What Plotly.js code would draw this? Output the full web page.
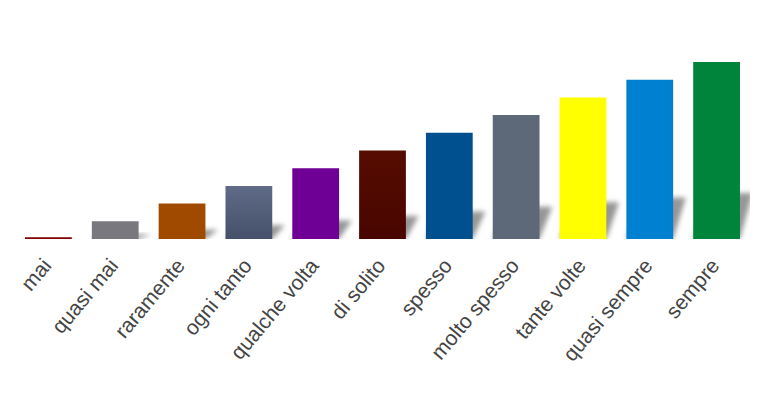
<!DOCTYPE html>
<html>
<head>
<meta charset="utf-8">
<script src="https://cdn.plot.ly/plotly-3.0.1.min.js"></script>
<style>
  html, body { margin: 0; padding: 0; background: #ffffff; }
  #chart { width: 763px; height: 393px; }
</style>
</head>
<body>
<div id="chart"></div>
<script>
// Data
const categories = ["mai", "quasi mai", "raramente", "ogni tanto", "qualche volta", "di solito",
                    "spesso", "molto spesso", "tante volte", "quasi sempre", "sempre"];
const values = [0.1, 1, 2, 3, 4, 5, 6, 7, 8, 9, 10];
const barColors = ["#7e0000", "#7a787f", "#a04a00", "#535d78", "#6e0096", "#4e0800",
                   "#00508f", "#5d6878", "#ffff00", "#0080d0", "#00843c"];

const positions = categories.map((c, i) => i);
const barWidth = 0.7;
const shadowShift = 0.19;   // horizontal skew of the cast shadow (data units)
const shadowRatio = 0.26;   // shadow height relative to bar height

const shadowShapes = values.map((v, i) => {
  const x0 = positions[i] - barWidth / 2;
  const x1 = positions[i] + barWidth / 2;
  const h = v * shadowRatio;
  return {
    type: "path", xref: "x", yref: "y", layer: "below",
    path: `M ${x0},0 L ${x1},0 L ${x1 + shadowShift},${h} L ${x0 + shadowShift},${h} Z`,
    fillcolor: "rgb(150,150,150)", line: { width: 0 }
  };
});

const trace = {
  type: "bar",
  x: positions,
  y: values,
  width: barWidth,
  marker: { color: barColors, line: { width: 0 } },
  hoverinfo: "skip"
};

const layout = {
  width: 763, height: 393,
  margin: { l: 15, r: 13, t: 62, b: 154 },
  paper_bgcolor: "#ffffff", plot_bgcolor: "#ffffff",
  showlegend: false,
  xaxis: {
    range: [-0.5, 10.5],
    tickmode: "array", tickvals: positions, ticktext: categories,
    tickangle: -50,
    ticklabelstandoff: 9,
    ticklabelshift: -4,
    showgrid: false, zeroline: false, showline: false, ticks: "",
    tickfont: { family: "Liberation Sans, Arial, sans-serif", size: 21, color: "#444444" },
    fixedrange: true
  },
  yaxis: {
    range: [0, 10],
    visible: false, showgrid: false, zeroline: false, fixedrange: true
  },
  shapes: shadowShapes
};

Plotly.newPlot("chart", [trace], layout, { displayModeBar: false, staticPlot: true }).then(() => {
  const NS = "http://www.w3.org/2000/svg";
  const svg = document.querySelector("#chart .main-svg");
  let defs = svg.querySelector("defs");
  if (!defs) { defs = document.createElementNS(NS, "defs"); svg.insertBefore(defs, svg.firstChild); }

  const filter = document.createElementNS(NS, "filter");
  filter.setAttribute("id", "shadowBlur");
  filter.setAttribute("x", "-50%"); filter.setAttribute("y", "-50%");
  filter.setAttribute("width", "200%"); filter.setAttribute("height", "200%");
  const blur = document.createElementNS(NS, "feGaussianBlur");
  blur.setAttribute("stdDeviation", "2.5");
  filter.appendChild(blur);
  defs.appendChild(filter);

  function addGrad(id, top, bottom) {
    const g = document.createElementNS(NS, "linearGradient");
    g.setAttribute("id", id);
    g.setAttribute("x1", "0"); g.setAttribute("y1", "0");
    g.setAttribute("x2", "0"); g.setAttribute("y2", "1");
    [[0, top], [1, bottom]].forEach(([o, c]) => {
      const s = document.createElementNS(NS, "stop");
      s.setAttribute("offset", o); s.setAttribute("stop-color", c);
      g.appendChild(s);
    });
    defs.appendChild(g);
  }
  addGrad("gradOgni", "#5f6b87", "#46506a");
  addGrad("gradSolito", "#560d00", "#480500");

  document.querySelectorAll("#chart .shapelayer path").forEach(p => {
    p.setAttribute("filter", "url(#shadowBlur)");
  });

  const bars = document.querySelectorAll("#chart .bars .point path");
  if (bars[3]) bars[3].style.fill = "url(#gradOgni)";
  if (bars[5]) bars[5].style.fill = "url(#gradSolito)";
});
</script>
</body>
</html>
